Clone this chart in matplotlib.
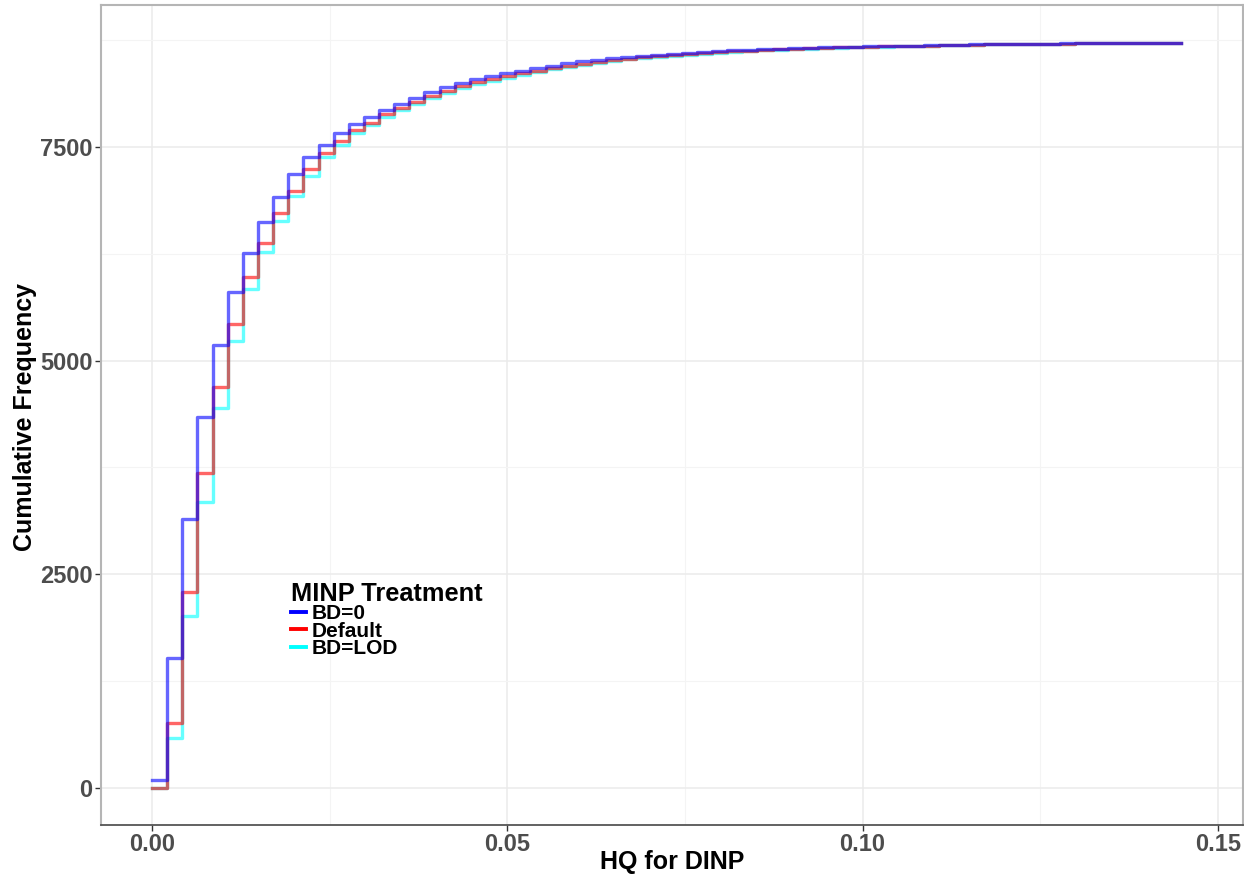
import numpy as np
import matplotlib.pyplot as plt
from matplotlib.ticker import MultipleLocator
from matplotlib.lines import Line2D

# Bin layout
binWidth = 0.00213
nBins = 68

# Cumulative counts per bin
bd0 = [94, 1517, 3147, 4337, 5183, 5800, 6256, 6618, 6918, 7180, 7386, 7523, 7660, 7769, 7847, 7933,
       8005, 8077, 8147, 8198, 8253, 8296, 8331, 8362, 8393, 8420,
       8450, 8479, 8500, 8520, 8538, 8554, 8568, 8581, 8593, 8603,
       8612, 8621, 8629, 8637, 8644, 8650, 8656, 8661, 8666, 8670,
       8674, 8678, 8681, 8684, 8687, 8690, 8693, 8696, 8699, 8701,
       8703, 8705, 8707, 8709, 8711, 8713, 8715, 8717, 8718, 8719,
       8720, 8721]
default = [0, 757, 2293, 3682, 4688, 5425, 5975, 6380, 6724, 6981, 7238, 7426, 7570, 7699, 7784, 7882,
           7955, 8029, 8101, 8156, 8213, 8258, 8295, 8328, 8361, 8390,
           8422, 8452, 8475, 8496, 8516, 8533, 8549, 8563, 8577, 8588,
           8598, 8608, 8617, 8626, 8634, 8641, 8648, 8654, 8659, 8664,
           8669, 8673, 8677, 8680, 8684, 8687, 8691, 8694, 8697, 8700,
           8702, 8704, 8706, 8708, 8710, 8712, 8714, 8716, 8718, 8719,
           8720, 8721]
bdLod = [0, 582, 2012, 3350, 4450, 5234, 5835, 6275, 6638, 6926, 7164, 7379, 7523, 7660, 7757, 7855,
         7930, 8005, 8078, 8133, 8193, 8239, 8277, 8311, 8345, 8375,
         8408, 8439, 8463, 8485, 8506, 8524, 8540, 8555, 8569, 8581,
         8592, 8602, 8612, 8621, 8630, 8637, 8644, 8651, 8657, 8662,
         8667, 8672, 8675, 8679, 8683, 8686, 8690, 8693, 8697, 8699,
         8702, 8704, 8706, 8708, 8710, 8712, 8714, 8716, 8718, 8719,
         8720, 8721]

labels = ['BD=0', 'Default', 'BD=LOD']
colors = ['#0000ff', '#ff0000', '#00ffff']

plt.rcParams['font.family'] = ['Liberation Sans', 'DejaVu Sans']

fig = plt.figure(figsize=(12.44, 8.81), dpi=100)
ax = fig.add_axes([101/1244, 1-825/881, (1243-101)/1244, (825-5)/881])

edges = np.arange(nBins + 1) * binWidth

# draw cyan first, blue on top
for values, col in [(bdLod, colors[2]), (default, colors[1]), (bd0, colors[0])]:
    yy = list(values) + [values[-1]]
    ax.step(edges, yy, where='post', color=col, alpha=0.6, lw=2.4, zorder=3)

ax.set_xlim(-0.00718, 0.15354)
ax.set_ylim(-433, 9161)

ax.xaxis.set_major_locator(MultipleLocator(0.05))
ax.xaxis.set_minor_locator(MultipleLocator(0.025))
ax.yaxis.set_major_locator(MultipleLocator(2500))
ax.yaxis.set_minor_locator(MultipleLocator(1250))
ax.set_xticks([0.0, 0.05, 0.10, 0.15])
ax.set_xticklabels(['0.00', '0.05', '0.10', '0.15'])
ax.set_yticks([0, 2500, 5000, 7500])

ax.grid(which='major', color='#ebebeb', lw=1.1, zorder=0)
ax.grid(which='minor', color='#f4f4f4', lw=0.8, zorder=0)
ax.set_axisbelow(True)

ax.tick_params(which='major', length=4, width=1, color='#333333', labelsize=17,
               labelcolor='#4d4d4d', pad=2)
ax.tick_params(which='minor', length=0)
for lab in ax.get_xticklabels() + ax.get_yticklabels():
    lab.set_fontweight('bold')

for side in ['left', 'top', 'right']:
    ax.spines[side].set_color('#b5b5b5')
    ax.spines[side].set_linewidth(1.5)
ax.spines['bottom'].set_color('#555555')
ax.spines['bottom'].set_linewidth(1.3)

ax.set_xlabel('HQ for DINP', fontsize=18, fontweight='bold', va='center')
ax.set_ylabel('Cumulative Frequency', fontsize=18, fontweight='bold', va='center')
ax.xaxis.set_label_coords((672-101)/1142, -(862-825)/820)
ax.yaxis.set_label_coords(-(101-25)/1142, 1-(417-5)/820)

handles = [Line2D([0], [0], color=c, lw=2.8) for c in colors]
leg = ax.legend(handles, labels, title='MINP Treatment', loc='upper left',
                bbox_to_anchor=((291-101)/1142, 1-(582-5)/820), frameon=False,
                prop={'size': 15, 'weight': 'bold'}, handlelength=0.72, handletextpad=0.25,
                labelspacing=-0.08, borderpad=0, borderaxespad=0, alignment='left')
leg.get_title().set_fontsize(18.3)
leg.get_title().set_fontweight('bold')

fig.savefig('out.png', dpi=100)
